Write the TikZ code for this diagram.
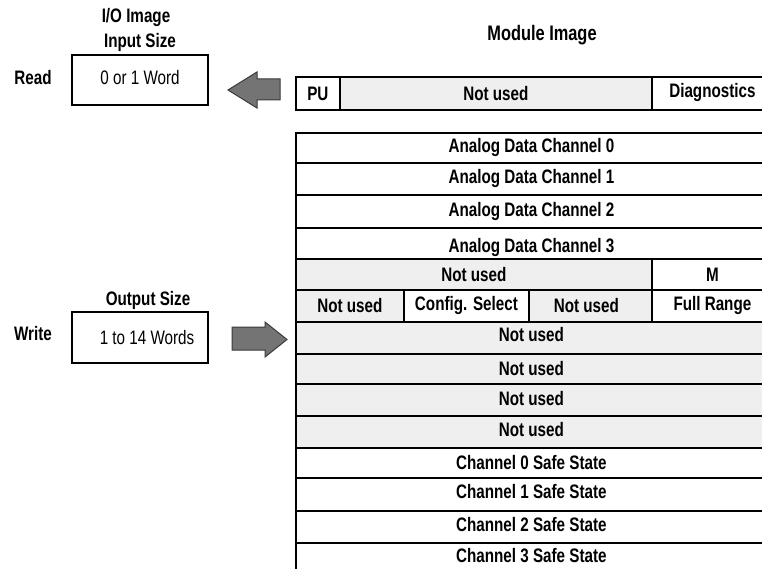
\documentclass[tikz,border=0pt]{standalone}
\usepackage{fontspec}
\setmainfont{Liberation Sans}[FakeStretch=0.78]
\definecolor{cellgray}{HTML}{EFEFEF}
\definecolor{arrowfill}{HTML}{747474}
\definecolor{arrowline}{HTML}{3A3A3A}
\begin{document}
\begin{tikzpicture}[x=1pt,y=-1pt,
  txt/.style={inner sep=0pt, font=\fontsize{19.5}{22}\selectfont},
  btxt/.style={inner sep=0pt, font=\fontsize{19.5}{22}\selectfont\bfseries},
  cell/.style={draw, line width=1.8pt, inner sep=0pt, anchor=north west,
    font=\fontsize{19.5}{22}\selectfont\bfseries, fill=white},
  gcell/.style={cell, fill=cellgray},
  sizebox/.style={draw, line width=1.8pt, inner sep=0pt, fill=white,
    font=\fontsize{19.5}{22}\selectfont},
  blockarrow/.style={fill=arrowfill, draw=arrowline, line width=1pt, line join=miter}]
\useasboundingbox (0,0) rectangle (762,569);
\clip (0,0) rectangle (762,569);

% left side labels
\node[btxt] (io) at (136,18) {I/O Image};
\node[btxt] (insize) at (140,42) {Input Size};
\node[btxt] (read) at (33,78) {Read};
\node[sizebox, minimum width=136pt, minimum height=50pt] (rbox) at (140,80) {\rule[-6pt]{0pt}{6pt}0 or 1 Word};
\node[btxt] (outsize) at (148,300) {Output Size};
\node[btxt] (write) at (33,334) {Write};
\node[sizebox, minimum width=136pt, minimum height=51pt] (wbox) at (140,337.5) {\hspace*{14pt}1 to 14 Words};

% block arrows
\draw[blockarrow] (228,90) -- (257,72) -- (257,79) -- (280,79) -- (280,100) -- (257,100) -- (257,108) -- cycle;
\draw[blockarrow] (232,327) -- (265,327) -- (265,322) -- (287,339.5) -- (265,357) -- (265,350) -- (232,350) -- cycle;

% title
\node[btxt, font=\fontsize{21}{24}\selectfont\bfseries] (title) at (542,35) {Module Image};

% input word
\node[cell, minimum width=44pt, minimum height=33pt] (pu) at (295,76) {PU};
\node[gcell, minimum width=312pt, minimum height=33pt] (nu0) at (339,76) {Not used};
\node[cell, minimum width=121pt, minimum height=33pt] (diag) at (651,76) {\rule[-5pt]{0pt}{5pt}Diagnostics};

% output words
\node[cell, minimum width=471pt, minimum height=30pt] (a0) at (295,132) {Analog Data Channel 0};
\node[cell, minimum width=471pt, minimum height=32pt] (a1) at (295,162) {Analog Data Channel 1};
\node[cell, minimum width=471pt, minimum height=33pt] (a2) at (295,194) {Analog Data Channel 2};
\node[cell, minimum width=471pt, minimum height=31pt] (a3) at (295,227) {\rule{0pt}{22pt}Analog Data Channel 3};
\node[gcell, minimum width=356pt, minimum height=31pt] (w4a) at (295,258) {Not used};
\node[cell, minimum width=121pt, minimum height=31pt] (w4b) at (651,258) {M};
\node[gcell, minimum width=108pt, minimum height=32pt] (w5a) at (295,289) {Not used};
\node[cell, minimum width=125pt, minimum height=32pt] (w5b) at (403,289) {Config. Select};
\node[gcell, minimum width=123pt, minimum height=32pt] (w5c) at (528,289) {Not used\hspace*{8pt}};
\node[cell, minimum width=121pt, minimum height=32pt] (w5d) at (651,289) {\rule[-3pt]{0pt}{3pt}Full Range};
\node[gcell, minimum width=471pt, minimum height=32pt] (w6) at (295,321) {\rule[-6pt]{0pt}{6pt}Not used};
\node[gcell, minimum width=471pt, minimum height=30pt] (w7) at (295,353) {Not used};
\node[gcell, minimum width=471pt, minimum height=32pt] (w8) at (295,383) {\rule[-3pt]{0pt}{3pt}Not used};
\node[gcell, minimum width=471pt, minimum height=32pt] (w9) at (295,415) {\rule[-4pt]{0pt}{4pt}Not used};
\node[cell, minimum width=471pt, minimum height=30pt] (s0) at (295,447) {Channel 0 Safe State};
\node[cell, minimum width=471pt, minimum height=33pt] (s1) at (295,477) {\rule[-6pt]{0pt}{6pt}Channel 1 Safe State};
\node[cell, minimum width=471pt, minimum height=32pt] (s2) at (295,510) {\rule[-4pt]{0pt}{4pt}Channel 2 Safe State};
\node[cell, minimum width=471pt, minimum height=34pt] (s3) at (295,542) {\rule[-9pt]{0pt}{9pt}Channel 3 Safe State};
\end{tikzpicture}
\end{document}
